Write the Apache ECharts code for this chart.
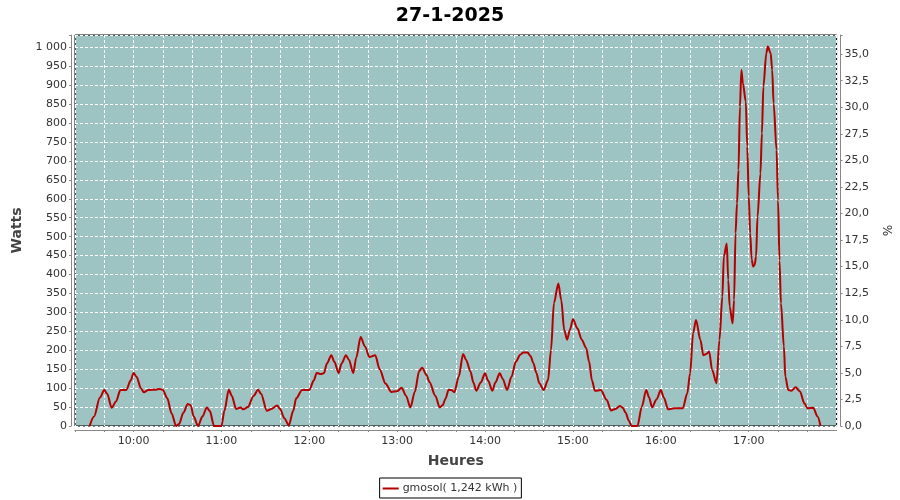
<!DOCTYPE html>
<html>
<head>
<meta charset="utf-8">
<script src="https://cdn.jsdelivr.net/npm/echarts@6/dist/echarts.min.js"></script>
<style>
html,body{margin:0;padding:0;background:#fff;}
#chart{width:900px;height:500px;}
</style>
</head>
<body>
<div id="chart"></div>
<script>
// ---- data ----
const chartTitle = '27-1-2025';
const seriesName = 'gmosol( 1,242 kWh )';
const times = [
 '09:30','09:33','09:37','09:40','09:42','09:45','09:48','09:51','09:55','09:58',
 '10:00','10:02','10:05','10:07','10:10','10:15','10:18','10:20','10:23','10:26',
 '10:29','10:31','10:34','10:37','10:39','10:41','10:44','10:47','10:50','10:52',
 '10:55','11:00','11:02','11:05','11:07','11:10','11:13','11:15','11:18','11:22',
 '11:25','11:27','11:31','11:34','11:38','11:40','11:43','11:46','11:49','11:51',
 '11:55','11:58','12:00','12:03','12:05','12:08','12:10','12:12','12:15','12:17',
 '12:20','12:22','12:25','12:27','12:30','12:32','12:35','12:38','12:41','12:45',
 '12:48','12:52','12:56','13:00','13:03','13:06','13:09','13:12','13:15','13:17',
 '13:20','13:22','13:26','13:29','13:31','13:33','13:35','13:37','13:39','13:42',
 '13:45','13:47','13:50','13:52','13:54','13:57','14:00','14:02','14:05','14:07',
 '14:10','14:12','14:15','14:18','14:21','14:24','14:26','14:29','14:31','14:33',
 '14:35','14:37','14:40','14:43','14:45','14:47','14:50','14:52','14:54','14:56',
 '14:58','15:00','15:03','15:06','15:09','15:11','15:13','15:15','15:19','15:23',
 '15:26','15:29','15:32','15:34','15:36','15:38','15:40','15:44','15:47','15:50',
 '15:52','15:54','15:57','16:00','16:02','16:05','16:08','16:10','16:15','16:18',
 '16:20','16:22','16:24','16:27','16:29','16:31','16:33','16:35','16:38','16:40',
 '16:42','16:43','16:45','16:46','16:47','16:49','16:50','16:51','16:52','16:53',
 '16:54','16:55','16:56','16:58','16:59','17:00','17:01','17:02','17:03','17:04',
 '17:05','17:06','17:08','17:09','17:10','17:12','17:13','17:15','17:16','17:17',
 '17:19','17:20','17:21','17:22','17:24','17:25','17:27','17:29','17:32','17:35',
 '17:38','17:40','17:44','17:47','17:49'
];
const watts = [
 0,25,75,95,85,48,65,95,95,120,
 140,130,100,89,95,96,98,95,73,33,
 0,5,35,58,55,25,0,25,49,40,
 0,0,40,96,80,45,49,44,50,80,
 96,85,40,45,54,45,20,2,40,73,
 95,95,95,120,140,137,140,165,187,170,
 140,165,187,175,140,180,235,210,182,187,
 150,112,90,92,101,80,49,90,145,154,
 135,116,80,49,55,72,95,95,89,130,
 190,175,144,115,93,115,139,120,93,115,
 139,125,95,130,170,188,194,194,185,166,
 140,113,95,122,201,325,376,333,254,228,
 255,282,258,228,206,170,120,93,95,69,
 41,45,53,48,35,15,0,0,51,95,
 75,49,70,95,75,44,46,47,47,86,
 139,245,280,227,187,190,196,148,113,227,
 342,447,482,386,315,271,333,509,588,676,
 843,940,905,857,738,606,509,440,421,425,
 447,553,667,773,896,984,1002,984,940,852,
 729,597,438,324,210,130,95,93,102,91,
 60,47,48,25,0
];
const xMinTime = '09:20', xMaxTime = '18:00';
const wattsMax = 1032.5, pctMax = 36.8;
const HALF_HOUR = 30 * 60 * 1000;

function toTs(s){ const p = s.split(':'); return new Date(2025, 0, 27, +p[0], +p[1]).getTime(); }
function pad(n){ return (n<10?'0':'')+n; }

const chart = echarts.init(document.getElementById('chart'), null, {renderer:'canvas'});
const font = 'DejaVu Sans';
const labelColor = '#333';
const axisGray = '#888';
const gridLineStyle = {color:'#ffffff', type:[3,2], width:1};

chart.setOption({
  animation:false,
  backgroundColor:'#ffffff',
  title:{
    text: chartTitle, left:'center', top:2,
    textStyle:{fontFamily:font, fontSize:19, fontWeight:'bold', color:'#000'}
  },
  legend:{
    data:[seriesName], bottom:2, left:'center',
    icon:'rect', itemWidth:16, itemHeight:2, itemGap:4,
    borderColor:'#000', borderWidth:1, padding:[5,4,4,3], borderRadius:0,
    textStyle:{fontFamily:font, fontSize:11, color:labelColor, padding:[0,0,0,-1]}
  },
  grid:{
    left:75, right:63, top:35, bottom:74, show:true,
    backgroundColor:'#9DC3C2', borderColor:'#000', borderWidth:1
  },
  xAxis:{
    type:'time', min:toTs(xMinTime), max:toTs(xMaxTime),
    minInterval:HALF_HOUR, maxInterval:HALF_HOUR,
    offset:4,
    name:'Heures', nameLocation:'middle', nameGap:24,
    nameTextStyle:{fontFamily:font, fontSize:14, fontWeight:'bold', color:'#444'},
    axisLine:{show:true, onZero:false, lineStyle:{color:axisGray, width:1}},
    axisTick:{show:true, length:2, lineStyle:{color:axisGray}},
    axisLabel:{fontFamily:font, fontSize:11, color:labelColor, margin:6,
      showMinLabel:false, showMaxLabel:false, hideOverlap:false,
      formatter:function(v){
        const d = new Date(v);
        if (d.getMinutes() % 30 !== 0 || v >= toTs(xMaxTime) || v <= toTs(xMinTime)) return '';
        return pad(d.getHours()) + ':' + pad(d.getMinutes());
      },
      rich:{}},
    splitLine:{show:true, lineStyle:gridLineStyle}
  },
  yAxis:[{
    type:'value', min:0, max:wattsMax, interval:50, offset:4, position:'left',
    name:'Watts', nameLocation:'middle', nameGap:39,
    nameTextStyle:{fontFamily:font, fontSize:14, fontWeight:'bold', color:'#444'},
    axisLine:{show:true, lineStyle:{color:axisGray, width:1}},
    axisTick:{show:true, length:2, lineStyle:{color:axisGray}},
    axisLabel:{fontFamily:font, fontSize:11, color:labelColor, margin:4,
      formatter:function(v){ return (v%50===0) ? String(v).replace(/\B(?=(\d{3})+(?!\d))/g,' ') : ''; }},
    splitLine:{show:true, lineStyle:gridLineStyle}
  },{
    type:'value', min:0, max:pctMax, interval:2.5, offset:4, position:'right',
    name:'%', nameLocation:'middle', nameGap:27, nameRotate:-90,
    nameTextStyle:{fontFamily:font, fontSize:12, color:labelColor},
    axisLine:{show:true, lineStyle:{color:axisGray, width:1}},
    axisTick:{show:true, length:2, lineStyle:{color:axisGray}},
    axisLabel:{fontFamily:font, fontSize:11, color:labelColor, margin:4,
      formatter:function(v){ return (Math.abs(v/2.5 - Math.round(v/2.5))<1e-6 && v<=35) ? v.toFixed(1).replace('.',',') : ''; }},
    splitLine:{show:false}
  }],
  series:[{
    name:seriesName, type:'line', yAxisIndex:0, z:3,
    data: times.map(function(t,i){ return [toTs(t), watts[i]]; }),
    showSymbol:false, symbol:'none', smooth:0.3, smoothMonotone:'x',
    lineStyle:{color:'#B40000', width:2},
    itemStyle:{color:'#B40000'}
  }]
});
</script>
</body>
</html>
